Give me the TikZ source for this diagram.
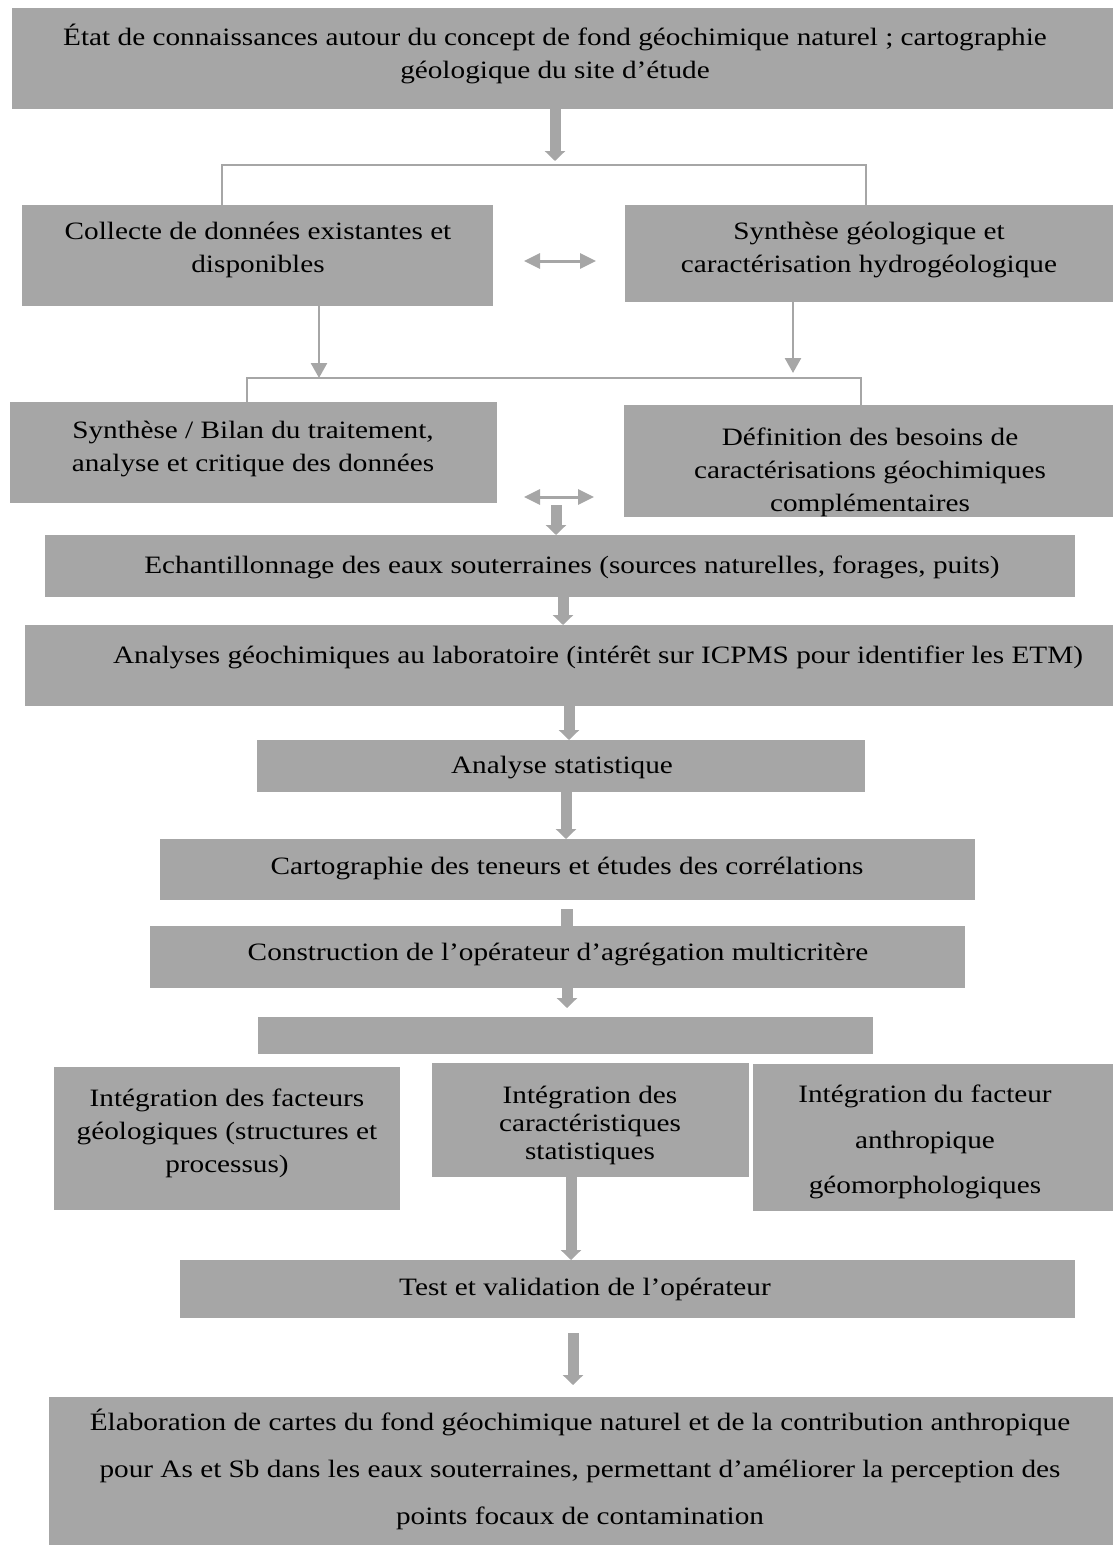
\documentclass[tikz,border=0pt]{standalone}
\usepackage{fontspec}
\setmainfont[FakeStretch=1.17]{Liberation Serif}
\usetikzlibrary{arrows.meta,calc}
\definecolor{bx}{HTML}{A6A6A6}
\begin{document}
\begin{tikzpicture}[x=1pt,y=-1pt,
  box/.style={fill=bx, draw=none, inner sep=0pt, outer sep=0pt, anchor=north west},
  txt/.style={align=center, inner sep=0pt, font=\fontsize{25}{33}\selectfont},
  fat/.style={draw=bx, line width=11pt, -{Triangle[width=20pt,length=10pt]}},
  stub/.style={draw=bx, line width=12pt},
  thinln/.style={draw=bx, line width=2.5pt},
  tarr/.style={draw=bx, line width=2.5pt, -{Triangle[width=16pt,length=15pt]}},
  dbl/.style={draw=bx, line width=3pt, {Triangle[width=15pt,length=16pt]}-{Triangle[width=15pt,length=16pt]}},
]
\useasboundingbox (0,0) rectangle (1113,1545);

% boxes
\node[box, minimum width=1101pt, minimum height=101pt] (top) at (12,8) {};
\node[box, minimum width=471pt, minimum height=101pt] (col) at (22,205) {};
\node[box, minimum width=488pt, minimum height=97pt] (syn) at (625,205) {};
\node[box, minimum width=487pt, minimum height=101pt] (syb) at (10,402) {};
\node[box, minimum width=489pt, minimum height=112pt] (def) at (624,405) {};
\node[box, minimum width=1030pt, minimum height=62pt] (ech) at (45,535) {};
\node[box, minimum width=1088pt, minimum height=81pt] (ana) at (25,625) {};
\node[box, minimum width=608pt, minimum height=52pt] (stat) at (257,740) {};
\node[box, minimum width=815pt, minimum height=61pt] (cart) at (160,839) {};
\node[box, minimum width=815pt, minimum height=62pt] (cons) at (150,926) {};
\node[box, minimum width=615pt, minimum height=37pt] (blank) at (258,1017) {};
\node[box, minimum width=346pt, minimum height=143pt] (lft) at (54,1067) {};
\node[box, minimum width=317pt, minimum height=114pt] (mid) at (432,1063) {};
\node[box, minimum width=360pt, minimum height=147pt] (rgt) at (753,1064) {};
\node[box, minimum width=895pt, minimum height=58pt] (test) at (180,1260) {};
\node[box, minimum width=1064pt, minimum height=148pt] (bot) at (49,1397) {};

% texts
\node[txt] (t1) at (555,54) {État de connaissances autour du concept de fond géochimique naturel ; cartographie\\géologique du site d’étude};
\node[txt] (t2) at (258,250) {Collecte de données existantes et\\disponibles};
\node[txt] (t3) at (869,250) {Synthèse géologique et\\caractérisation hydrogéologique};
\node[txt] (t4) at (253,449) {Synthèse / Bilan du traitement,\\analyse et critique des données};
\node[txt] (t5) at (870,472) {Définition des besoins de\\caractérisations géochimiques\\complémentaires};
\node[txt] (t6) at (572,567) {Echantillonnage des eaux souterraines (sources naturelles, forages, puits)};
\node[txt] (t7) at (598,657) {Analyses géochimiques au laboratoire (intérêt sur ICPMS pour identifier les ETM)};
\node[txt] (t8) at (562,768) {Analyse statistique};
\node[txt] (t9) at (567,868) {Cartographie des teneurs et études des corrélations};
\node[txt] (t10) at (558,954) {Construction de l’opérateur d’agrégation multicritère};
\node[txt] (t11) at (227,1133) {Intégration des facteurs\\géologiques (structures et\\processus)};
\node[txt, font=\fontsize{25}{28}\selectfont] (t12) at (590,1125) {Intégration des\\caractéristiques\\statistiques};
\node[txt, font=\fontsize{25}{45.5}\selectfont] (t13) at (925,1142) {Intégration du facteur\\anthropique\\géomorphologiques};
\node[txt] (t14) at (585,1289) {Test et validation de l’opérateur};
\node[txt, font=\fontsize{25}{47}\selectfont] (t15) at (580,1469) {Élaboration de cartes du fond géochimique naturel et de la contribution anthropique\\pour As et Sb dans les eaux souterraines, permettant d’améliorer la perception des\\points focaux de contamination};

% coordinates
\coordinate (a1) at (555,161);
\coordinate (bl1) at (222,165);
\coordinate (br1) at (866,165);
\coordinate (d1a) at (524,261);
\coordinate (d1b) at (596,261);
\coordinate (tl) at (319,378);
\coordinate (tr) at (793,373);
\coordinate (bl2) at (247,378);
\coordinate (br2) at (861,378);
\coordinate (d2a) at (524,497);
\coordinate (d2b) at (594,497);
\coordinate (f2) at (556,505);
\coordinate (f3) at (563,600);
\coordinate (f4) at (569,700);
\coordinate (f5) at (566,800);
\coordinate (s1) at (567,909);
\coordinate (f6) at (567,1008);
\coordinate (f7) at (571,1200);
\coordinate (f8a) at (573,1333);
\coordinate (f8b) at (573,1385);

% connectors
\draw[fat] (a1 |- top.south) -- (a1);
\draw[thinln] ([yshift=-5pt]col.north -| bl1) -- (bl1) -- (br1) -- ([yshift=-3pt]syn.north -| br1);
\draw[dbl] (d1a) -- (d1b);
\draw[tarr] (col.south -| tl) -- (tl);
\draw[tarr] (syn.south -| tr) -- (tr);
\draw[thinln] (syb.north -| bl2) -- (bl2) -- (br2) -- (def.north -| br2);
\draw[dbl] (d2a) -- (d2b);
\draw[fat] (f2) -- (f2 |- ech.north);
\draw[fat] (f3 |- ech.south) -- (f3 |- ana.north);
\draw[fat] (f4 |- ana.south) -- (f4 |- stat.north);
\draw[fat] (f5 |- stat.south) -- (f5 |- cart.north);
\draw[stub] (s1) -- (s1 |- cons.north);
\draw[fat] (f6 |- cons.south) -- (f6);
\draw[fat] (f7 |- mid.south) -- (f7 |- test.north);
\draw[fat] (f8a) -- (f8b);
\end{tikzpicture}
\end{document}
